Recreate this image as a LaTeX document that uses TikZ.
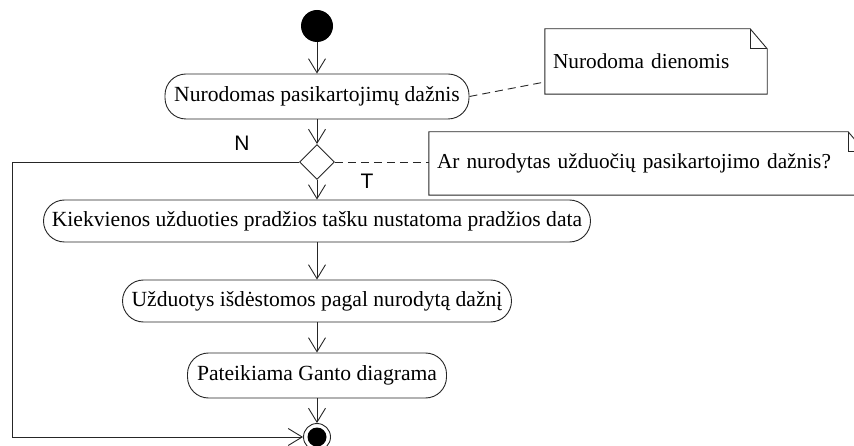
\documentclass[tikz,border=0pt]{standalone}
\usepackage{fontspec}
\setmainfont{Liberation Serif}
\newfontfamily\labelfont{Liberation Sans}
\usetikzlibrary{arrows.meta,shapes.geometric}

\tikzset{
  line/.style={draw=black!85, line width=0.9pt},
  flow/.style={line, -{Straight Barb[length=14pt,width=17pt]}},
  notelink/.style={line, dash pattern=on 8pt off 5pt},
  activity/.style={line, rectangle, rounded corners=21pt, fill=white,
    inner sep=0pt, font=\fontsize{21.6}{25}\selectfont},
  decision/.style={line, diamond, fill=white, inner sep=0pt,
    minimum width=35pt, minimum height=35pt},
  notebox/.style={rectangle, inner xsep=8pt, inner ysep=0pt, align=left,
    font=\fontsize{21.3}{25}\selectfont},
  guard/.style={font=\labelfont\fontsize{21}{25}\selectfont, inner sep=0pt},
}

\begin{document}
\begin{tikzpicture}[x=1pt, y=-1pt]
  \useasboundingbox (0,0) rectangle (854,446);
  \clip (0,0) rectangle (854,446);

  % start and end states
  \node (start) [circle, fill=black, minimum size=32pt, inner sep=0pt] at (317,26) {};
  \node (end) [circle, line, fill=white, minimum size=27pt, inner sep=0pt] at (317,437) {};
  \fill[black] (end.center) circle (9.5pt);

  % actions
  \node (a1) [activity, minimum width=304pt, minimum height=45pt] at (317,96.5)
    {Nurodomas pasikartojimų dažnis};
  \node (dec) [decision] at (317,162) {};
  \node (a2) [activity, minimum width=547pt, minimum height=42pt] at (317,221)
    {Kiekvienos užduoties pradžios tašku nustatoma pradžios data};
  \node (a3) [activity, minimum width=389pt, minimum height=42pt] at (317,301)
    {Užduotys išdėstomos pagal nurodytą dažnį};
  \node (a4) [activity, minimum width=259pt, minimum height=45pt] at (317,375.5)
    {Pateikiama Ganto diagrama};

  % guards
  \node (gN) [guard] at (242,143) {N};
  \node (gT) [guard] at (367,181) {T};

  % notes
  \node (n1) [notebox, text width=206pt, minimum height=65pt] at (656,61.5)
    {Nurodoma dienomis};
  \node (n2) [notebox, text width=420pt, minimum height=63pt] at (647,163.5)
    {Ar nurodytas užduočių pasikartojimo dažnis?};
  \foreach \n/\fx/\fy in {n1/17/20, n2/17/20} {
    \draw[line] (\n.south west) -- (\n.north west)
      -- ([xshift=-\fx pt]\n.north east) -- ([yshift=-\fy pt]\n.north east)
      -- (\n.south east) -- cycle;
    \draw[line] ([xshift=-\fx pt]\n.north east) |- ([yshift=-\fy pt]\n.north east);
  }

  % control flow
  \draw[flow] (start) -- (a1);
  \draw[flow] (a1) -- (dec);
  \draw[flow] (dec) -- (a2);
  \draw[flow] (a2) -- (a3);
  \draw[flow] (a3) -- (a4);
  \draw[flow] (a4) -- (end);
  \coordinate (loopx) at (12,0);
  \draw[flow] (dec.west) -- (dec.west -| loopx) |- (end.west);

  % note attachments
  \draw[notelink] (a1.east) -- ([yshift=-20.5pt]n1.west);
  \draw[notelink] (dec.east) -- (n2.west |- dec.east);
\end{tikzpicture}
\end{document}
